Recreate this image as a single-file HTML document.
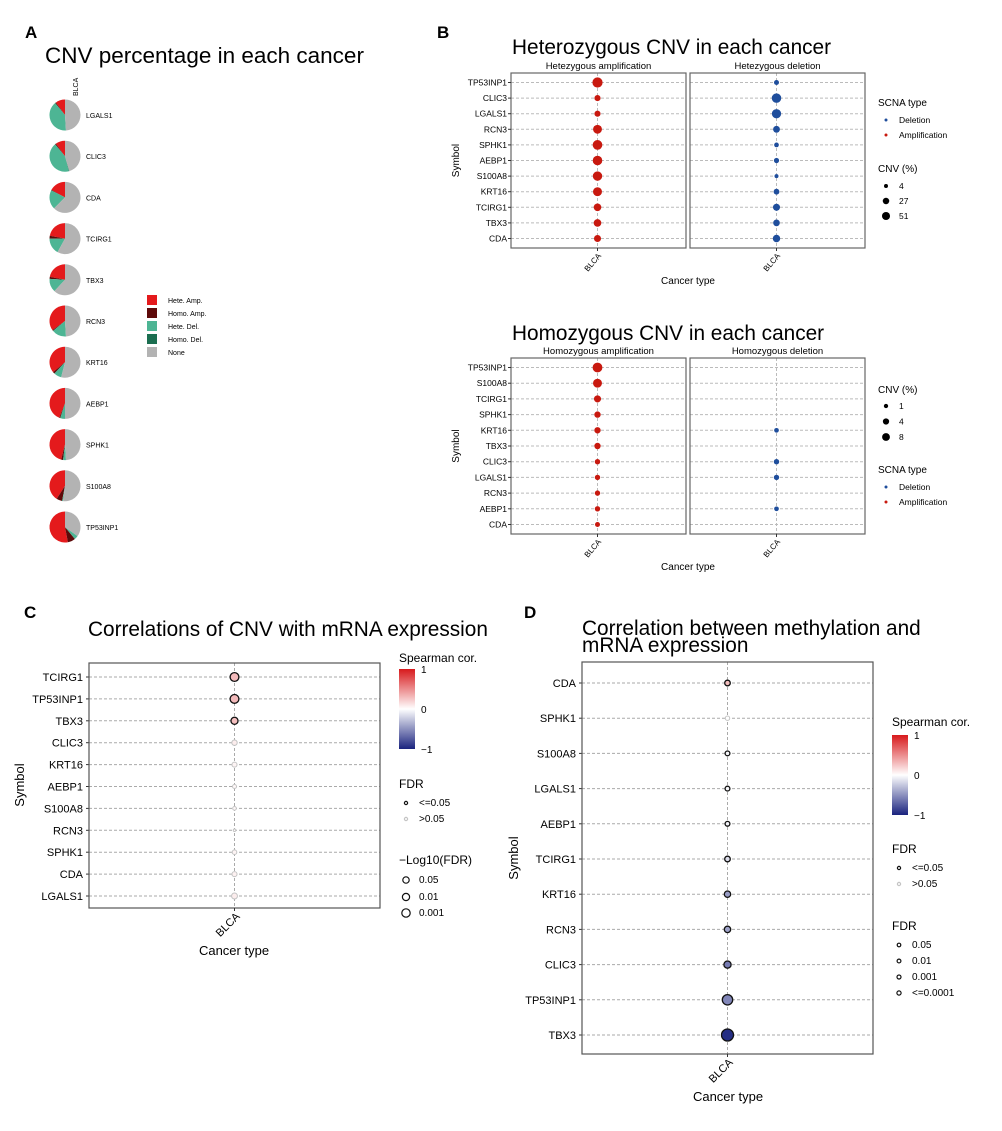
<!DOCTYPE html>
<html><head><meta charset="utf-8"><style>
body{margin:0;background:#fff}
svg{display:block;font-family:"Liberation Sans",Arial,sans-serif}
</style></head><body>
<svg id="fig" width="1002" height="1131" viewBox="0 0 1002 1131" xmlns="http://www.w3.org/2000/svg"></svg>
<script>
// ---------- DATA ----------
const pieGenes=["LGALS1","CLIC3","CDA","TCIRG1","TBX3","RCN3","KRT16","AEBP1","SPHK1","S100A8","TP53INP1"];
const pieHeteAmp=[10,10,17,22,22,35,36,44,46,41,53];
const pieHomoAmp=[1,1,0.5,3,2,1,2,1,2,6,8];
const pieHeteDel=[40,43,20,17,14,15,8,5,3,1,4];
const pieHomoDel=[0,0.5,0,0,0,0,0,0,0,0,0];

const hetGenes=["TP53INP1","CLIC3","LGALS1","RCN3","SPHK1","AEBP1","S100A8","KRT16","TCIRG1","TBX3","CDA"];
const hetAmpVals=[53,10,10,35,46,44,41,36,22,22,17];
const hetDelVals=[4,43,40,15,3,5,1,8,17,14,20];
const hetLegend=[4,27,51];

const homGenes=["TP53INP1","S100A8","TCIRG1","SPHK1","KRT16","TBX3","CLIC3","LGALS1","RCN3","AEBP1","CDA"];
const homAmpVals=[8,6,3,2,2,2,1,1,1,1,0.7];
const homDelVals=[0,0,0,0,0.5,0,1,1,0,0.5,0];
const homLegend=[1,4,8];

const cGenes=["TCIRG1","TP53INP1","TBX3","CLIC3","KRT16","AEBP1","S100A8","RCN3","SPHK1","CDA","LGALS1"];
const cCor=[0.3,0.3,0.28,0.08,0.05,0.03,0.03,0.02,0.05,0.06,0.08];
const cLogFdr=[4,4,3,2,1.8,1.2,1,0.3,1.5,1.8,2.3];
const cSig=[1,1,1,0,0,0,0,0,0,0,0];

const dGenes=["CDA","SPHK1","S100A8","LGALS1","AEBP1","TCIRG1","KRT16","RCN3","CLIC3","TP53INP1","TBX3"];
const dCor=[0.28,0,-0.03,-0.03,-0.05,-0.15,-0.45,-0.42,-0.6,-0.55,-0.95];
const dLogFdr=[2,0.5,1,1,1,2,3,3,4,8,10];
const dSig=[1,0,1,1,1,1,1,1,1,1,1];

// ---------- HELPERS ----------
const NS="http://www.w3.org/2000/svg";
const svg=document.getElementById('fig');
function mk(tag,attrs,parent){const e=document.createElementNS(NS,tag);for(const k in attrs)e.setAttribute(k,attrs[k]);(parent||svg).appendChild(e);return e;}
function txt(x,y,s,size,opts){opts=opts||{};const e=mk('text',{x:x,y:y,'font-size':size,fill:opts.fill||'#000','text-anchor':opts.anchor||'start'});if(opts.bold)e.setAttribute('font-weight','bold');if(opts.rot)e.setAttribute('transform',`rotate(${opts.rot} ${x} ${y})`);e.textContent=s;return e;}
function lerp(a,b,t){return Math.round(a+(b-a)*t);}
function corColor(v){const lo=[26,35,126],mid=[255,255,255],hi=[215,25,28];let c;if(v>=0)c=mid.map((m,i)=>lerp(m,hi[i],v));else c=mid.map((m,i)=>lerp(m,lo[i],-v));return `rgb(${c[0]},${c[1]},${c[2]})`;}

// ---------- PANEL A ----------
let t;
t=txt(25,38,"A",17,{bold:true});

t=txt(45,63,"CNV percentage in each cancer",22.5);

t=txt(78,96,"BLCA",7,{rot:-90});

const pieCols=["#E41A1C","#5E0A0A","#4DB594","#1B6E50","#B3B3B3"];
const pieX=65,pieR=15.5,pieY0=115,pieDy=41.2;
pieGenes.forEach((g,i)=>{
  const cy=pieY0+i*pieDy;
  const parts=[pieHeteAmp[i],pieHomoAmp[i],pieHeteDel[i],pieHomoDel[i]];
  parts.push(100-parts.reduce((a,b)=>a+b,0));
  let a0=0;
  parts.forEach((p,k)=>{
    if(p<=0)return;
    const a1=a0+p/100*2*Math.PI;
    const x0=pieX-pieR*Math.sin(a0),y0=cy-pieR*Math.cos(a0);
    const x1=pieX-pieR*Math.sin(a1),y1=cy-pieR*Math.cos(a1);
    const large=(a1-a0)>Math.PI?1:0;
    const p1=mk('path',{d:`M${pieX},${cy} L${x0},${y0} A${pieR},${pieR} 0 ${large} 0 ${x1},${y1} Z`,fill:pieCols[k]});
    
    
    a0=a1;
  });
  const l=txt(86,cy+3,g,7);
  
  
});
const pieLeg=["Hete. Amp.","Homo. Amp.","Hete. Del.","Homo. Del.","None"];
pieLeg.forEach((s,k)=>{
  const y=295+k*13;
  const r=mk('rect',{x:147,y:y,width:10,height:10,fill:pieCols[k]});
  
  
  const l=txt(168,y+8,s,7);
  
  
});

// ---------- PANEL B ----------
function facetPlot(cfg){
  const {top,bottom,genes,ampVals,delVals,rfun,title,titleY,strips}=cfg;
  const boxes=[[511,686],[690,865]];
  const rowY0=top+9.5, dy=(bottom-top-19)/(genes.length-1);
  const ys=i=>rowY0+i*dy;
  let e=txt(512,titleY,title,20.8);
  
  boxes.forEach((bx,b)=>{
    const cx=(bx[0]+bx[1])/2-1;
    e=txt((bx[0]+bx[1])/2,top-4,strips[b],9.5,{anchor:'middle'});
    
    e=mk('line',{x1:cx,x2:cx,y1:top,y2:bottom,stroke:'#bbb','stroke-dasharray':'3,2','stroke-width':1});
    
    genes.forEach((g,i)=>{
      const l=mk('line',{x1:bx[0],x2:bx[1],y1:ys(i),y2:ys(i),stroke:'#bbb','stroke-dasharray':'3,2','stroke-width':1});
      
      
    });
    const vals=b==0?ampVals:delVals;
    genes.forEach((g,i)=>{
      if(vals[i]<=0)return;
      const c=mk('circle',{cx:cx,cy:ys(i),r:rfun(vals[i]),fill:b==0?'#C8190F':'#1F4E9C'});
      
      
    });
    e=mk('rect',{x:bx[0],y:top,width:bx[1]-bx[0],height:bottom-top,fill:'none',stroke:'#666','stroke-width':1.2});
    
    e=mk('line',{x1:cx,x2:cx,y1:bottom,y2:bottom+3,stroke:'#333'});
    
    e=txt(cx+4,bottom+8,"BLCA",8,{anchor:'end',rot:-50});
    
  });
  genes.forEach((g,i)=>{
    const l=txt(507,ys(i)+3,g,8.5,{anchor:'end'});
    
    
    const tk=mk('line',{x1:508,x2:511,y1:ys(i),y2:ys(i),stroke:'#333'});
    
    
  });
  e=txt(688,bottom+36,"Cancer type",10,{anchor:'middle'});
  
  e=txt(459,(top+bottom)/2,"Symbol",10,{anchor:'middle',rot:-90});
  
}
t=txt(437,38,"B",17,{bold:true});

const rHet=v=>1.5+3.6*Math.sqrt(v/53);
facetPlot({top:73,bottom:248,genes:hetGenes,ampVals:hetAmpVals,delVals:hetDelVals,rfun:rHet,title:"Heterozygous CNV in each cancer",titleY:54,strips:["Hetezygous amplification","Hetezygous deletion"]});
const rHom=v=>1.5+3.5*Math.sqrt(v/8.5);
facetPlot({top:358,bottom:534,genes:homGenes,ampVals:homAmpVals,delVals:homDelVals,rfun:rHom,title:"Homozygous CNV in each cancer",titleY:340,strips:["Homozygous amplification","Homozygous deletion"]});

function legItem(x,y,r,fill,stroke,label,size){
  const c=mk('circle',{cx:x,cy:y,r:r,fill:fill,stroke:stroke||'none','stroke-width':1.2});
  
  
  const l=txt(x+13,y+3,label,size||8.5);
  
  
}
function legTitle(x,y,s,size){const e=txt(x,y,s,size);}
legTitle(878,106,"SCNA type",10);
legItem(886,120,1.5,'#1F4E9C',null,"Deletion");
legItem(886,135,1.5,'#C8190F',null,"Amplification");
legTitle(878,172,"CNV (%)",10);
hetLegend.forEach((v,k)=>legItem(886,186+k*15,rHet(v)*0.8,'#000',null,String(v)));
legTitle(878,393,"CNV (%)",10);
homLegend.forEach((v,k)=>legItem(886,406+k*15.5,rHom(v)*0.8,'#000',null,String(v)));
legTitle(878,473,"SCNA type",10);
legItem(886,487,1.5,'#1F4E9C',null,"Deletion");
legItem(886,502,1.5,'#C8190F',null,"Amplification");

// ---------- single-column dot plots (C, D) ----------
function colorbar(x,y,h,id){
  const defs=mk('defs',{});
  const g=mk('linearGradient',{id:id,x1:0,y1:0,x2:0,y2:1},defs);
  for(let k=0;k<=10;k++){const v=1-k/5;mk('stop',{offset:(k*10)+'%','stop-color':corColor(v)},g);}
  const r=mk('rect',{x:x,y:y,width:16,height:h,fill:`url(#${id})`});
  
  
  [["1",0],["0",h/2],["\u22121",h]].forEach(p=>{const l=txt(x+22,y+p[1]+4,p[0],10);});
}
function dotPlot(cfg){
  const {x0,x1,top,bottom,genes,cor,logf,sig,rfun,rowY0,rowDy}=cfg;
  const cx=(x0+x1)/2;
  const ys=i=>rowY0+i*rowDy;
  let e=mk('line',{x1:cx,x2:cx,y1:top,y2:bottom,stroke:'#aaa','stroke-dasharray':'3,2'});
  
  genes.forEach((g,i)=>{
    const l=mk('line',{x1:x0,x2:x1,y1:ys(i),y2:ys(i),stroke:'#aaa','stroke-dasharray':'3,2'});
    
    
    const lb=txt(x0-6,ys(i)+4,g,11,{anchor:'end'});
    
    
    const tk=mk('line',{x1:x0-3,x2:x0,y1:ys(i),y2:ys(i),stroke:'#333'});
    
    
  });
  genes.forEach((g,i)=>{
    const c=mk('circle',{cx:cx,cy:ys(i),r:rfun(logf[i]),fill:corColor(cor[i]),stroke:sig[i]?'#111':'#c4c4c4','stroke-width':sig[i]?1.3:1});
    
    
  });
  e=mk('rect',{x:x0,y:top,width:x1-x0,height:bottom-top,fill:'none',stroke:'#555','stroke-width':1.2});
  
  e=mk('line',{x1:cx,x2:cx,y1:bottom,y2:bottom+3,stroke:'#333'});
  
  e=txt(cx+6,bottom+9,"BLCA",11,{anchor:'end',rot:-45});
  
}
t=txt(24,618,"C",17,{bold:true});

t=txt(88,636,"Correlations of CNV with mRNA expression",20.8);

dotPlot({x0:89,x1:380,top:663,bottom:908,genes:cGenes,cor:cCor,logf:cLogFdr,sig:cSig,rfun:v=>1+0.85*v,rowY0:677,rowDy:21.9});
t=txt(234,955,"Cancer type",13,{anchor:'middle'});

t=txt(24,785,"Symbol",13,{anchor:'middle',rot:-90});

legTitle(399,662,"Spearman cor.",12);
colorbar(399,669,80,'gc');
legTitle(399,788,"FDR",12);
legItem(406,803,1.6,'#fff','#111',"<=0.05",10);
legItem(406,819,1.6,'#fff','#c4c4c4',">0.05",10);
legTitle(399,864,"\u2212Log10(FDR)",12);
legItem(406,880,3.2,'#fff','#111',"0.05",10);
legItem(406,897,3.6,'#fff','#111',"0.01",10);
legItem(406,913,4.2,'#fff','#111',"0.001",10);

t=txt(524,618,"D",17,{bold:true});

t=txt(582,635,"Correlation between methylation and",20.8);

t=txt(582,652,"mRNA expression",20.8);

dotPlot({x0:582,x1:873,top:662,bottom:1054,genes:dGenes,cor:dCor,logf:dLogFdr,sig:dSig,rfun:v=>2+0.4*v,rowY0:683,rowDy:35.2});
t=txt(728,1101,"Cancer type",13,{anchor:'middle'});

t=txt(518,858,"Symbol",13,{anchor:'middle',rot:-90});

legTitle(892,726,"Spearman cor.",12);
colorbar(892,735,80,'gd');
legTitle(892,853,"FDR",12);
legItem(899,868,1.6,'#fff','#111',"<=0.05",10);
legItem(899,884,1.6,'#fff','#c4c4c4',">0.05",10);
legTitle(892,930,"FDR",12);
legItem(899,945,1.8,'#fff','#111',"0.05",10);
legItem(899,961,1.9,'#fff','#111',"0.01",10);
legItem(899,977,2.0,'#fff','#111',"0.001",10);
legItem(899,993,2.1,'#fff','#111',"<=0.0001",10);
</script>
</body></html>
